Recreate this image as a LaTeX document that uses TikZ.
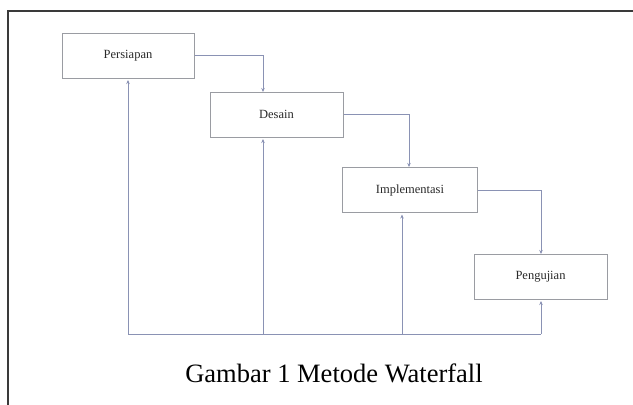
\documentclass[tikz,border=0pt]{standalone}
\usepackage{fontspec}
\setmainfont{Liberation Serif}
\usetikzlibrary{arrows.meta,calc}
\definecolor{boxline}{HTML}{9A9CA2}
\definecolor{connline}{HTML}{8A92B4}
\definecolor{frameline}{HTML}{3A3A3A}
\definecolor{boxtext}{HTML}{2A2A2A}
\tikzset{
  stagebox/.style={draw=boxline, line width=1pt, fill=white, minimum width=133pt, minimum height=45pt, inner sep=0pt, font=\fontsize{12.5}{14}\selectfont, text=boxtext},
  conn/.style={draw=connline, line width=1pt},
  connarrow/.style={conn, -{Stealth[length=4pt,width=3.5pt]}},
  backarrow/.style={conn, -{Stealth[length=4pt,width=3.5pt]}, shorten >=1.5pt}
}
\begin{document}
\begin{tikzpicture}[x=1pt,y=-1pt]
\useasboundingbox (0,0) rectangle (633,405);
% frame
\draw[frameline, line width=2pt] (8,405) -- (8,11) -- (633,11);
% stages
\node[stagebox, minimum width=132pt] (P) at (128,55.5) {Persiapan};
\node[stagebox] (D) at (276.5,114.5) {Desain};
\node[stagebox, minimum width=135pt] (I) at (410,190) {Implementasi};
\node[stagebox] (G) at (540.5,276.5) {Pengujian};
% forward flow
\coordinate (Din) at (263,92);
\coordinate (Iin) at (409,167);
\coordinate (Gin) at (541,254);
\draw[connarrow] (P.east) -| (Din);
\draw[connarrow] (D.east) -| (Iin);
\draw[connarrow] (I.east) -| (Gin);
% feedback
\coordinate (b1) at (128,334);
\coordinate (b2) at (263,334);
\coordinate (b3) at (402,334);
\coordinate (b4) at (541,334);
\draw[conn] (b1) -- (b4);
\draw[backarrow] (b1) -- (P.south);
\draw[backarrow] (b2) -- (b2 |- D.south);
\draw[backarrow] (b3) -- (b3 |- I.south);
\draw[backarrow] (b4) -- (b4 |- G.south);
% caption
\node[anchor=base, font=\fontsize{26.5}{30}\selectfont, inner sep=0pt] (cap) at (334,382) {Gambar 1 Metode Waterfall};
\end{tikzpicture}
\end{document}
